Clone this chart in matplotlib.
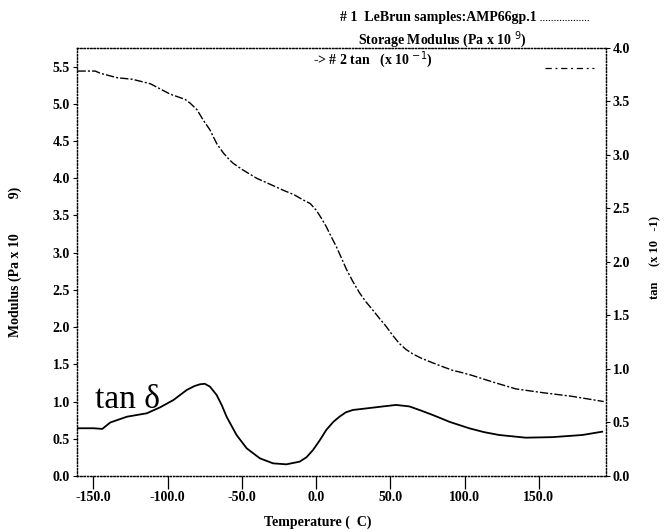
import numpy as np
import matplotlib
matplotlib.use("Agg")
import matplotlib.pyplot as plt

plt.rcParams["font.family"] = ["Liberation Serif", "DejaVu Serif"]
plt.rcParams["axes.unicode_minus"] = False

# storage modulus (Pa x 10^9), left axis
mod_temp = [-160.7, -148.7, -145.3, -133.9, -123.8, -111.7, -98.3, -88.3, -84.9,
            -80.2, -76.0, -71.5, -69.3, -66.8, -62.5, -58.5, -55.8, -50.0, -40.1,
            -30.0, -22.3, -15.0, -8.9, -4.0, 0.1, 3.6, 6.8, 10.0, 13.6, 17.0,
            20.3, 24.5, 29.2, 33.5, 38.1, 42.5, 47.1, 51.5, 56.0, 60.5, 65.0,
            71.0, 78.5, 85.0, 91.8, 98.0, 105.2, 113.0, 121.0, 134.4, 152.2,
            172.3, 193.6]
mod_vals = [5.44, 5.44, 5.41, 5.35, 5.33, 5.27, 5.13, 5.06, 5.01,
            4.92, 4.78, 4.65, 4.56, 4.46, 4.34, 4.25, 4.20, 4.12, 4.00,
            3.91, 3.84, 3.78, 3.71, 3.66, 3.57, 3.46, 3.35, 3.22, 3.08, 2.93,
            2.78, 2.62, 2.46, 2.34, 2.23, 2.12, 2.01, 1.89, 1.78, 1.70, 1.64,
            1.58, 1.52, 1.47, 1.42, 1.39, 1.35, 1.30, 1.25, 1.17, 1.12,
            1.07, 1.00]

# tan delta (x 10^-1), right axis
tan_temp = [-161.4, -149.8, -144.0, -138.6, -127.4, -114.0, -105.0, -96.1, -87.1,
            -82.0, -78.2, -75.0, -71.5, -67.0, -63.5, -60.3, -53.6, -46.8, -37.9,
            -29.0, -20.0, -11.1, -6.5, -2.1, 2.5, 6.8, 11.5, 15.8, 20.0, 24.7,
            29.2, 35.9, 45.0, 53.8, 62.8, 70.5, 78.5, 90.0, 103.0, 113.0, 123.2,
            141.1, 159.0, 179.2, 192.6]
tan_vals = [0.446, 0.446, 0.440, 0.500, 0.554, 0.586, 0.642, 0.710, 0.804,
            0.840, 0.857, 0.862, 0.835, 0.757, 0.660, 0.554, 0.383, 0.259, 0.165,
            0.118, 0.109, 0.134, 0.175, 0.243, 0.335, 0.430, 0.505, 0.555, 0.595, 0.617,
            0.624, 0.635, 0.650, 0.664, 0.650, 0.612, 0.570, 0.505, 0.446, 0.410, 0.383,
            0.358, 0.363, 0.383, 0.414]

x_ticks = [-150, -100, -50, 0, 50, 100, 150]
left_ticks = [0.0, 0.5, 1.0, 1.5, 2.0, 2.5, 3.0, 3.5, 4.0, 4.5, 5.0, 5.5]
right_ticks = [0.0, 0.5, 1.0, 1.5, 2.0, 2.5, 3.0, 3.5, 4.0]

fig = plt.figure(figsize=(6.71, 5.32), dpi=100)
ax = fig.add_axes([0.1148, 0.1053, 0.788, 0.8045])
ax2 = ax.twinx()

ax.plot(mod_temp, mod_vals, color="black", lw=1.0, ls=(0, (6, 1.5, 1.5, 1.5)))
ax2.plot(tan_temp, tan_vals, color="black", lw=1.3)

ax.set_xlim(-161, 195)
ax.set_ylim(0, 5.75)
ax2.set_ylim(0, 4.0)

ax.set_xticks(x_ticks)
ax.set_xticklabels([f"{t:.1f}" for t in x_ticks])
ax.set_yticks(left_ticks)
ax.set_yticklabels([f"{t:.1f}" for t in left_ticks])
ax2.set_yticks(right_ticks)
ax2.set_yticklabels([f"{t:.1f}" for t in right_ticks])

for a in (ax, ax2):
    for s in a.spines.values():
        s.set_linestyle(":")
        s.set_linewidth(0.9)
    for lab in a.get_xticklabels() + a.get_yticklabels():
        lab.set_fontweight("bold")
        lab.set_fontsize(10)
ax.tick_params(axis="x", direction="out", length=9, width=0.9, pad=2)
ax.tick_params(axis="y", direction="out", length=3, width=0.8, pad=2)
ax2.tick_params(axis="y", direction="out", length=3, width=0.8, pad=2)

ax.set_xlabel("Temperature (  C)", fontsize=10, fontweight="bold")
ax.xaxis.set_label_coords(0.455, -0.092)
ax.set_ylabel("Modulus (Pa x 10          9)", fontsize=10, fontweight="bold")
ax.yaxis.set_label_coords(-0.104, 0.50)
ax2.set_ylabel("tan     (x 10   -1)", fontsize=9, fontweight="bold", rotation=90)
ax2.yaxis.set_label_coords(1.083, 0.51)

ax.text(0.034, 0.16, "tan \u03b4", transform=ax.transAxes, fontsize=24,
        family=["Liberation Serif", "DejaVu Serif"])

# legend block at the top
fig.text(0.507, 0.968, "# 1  LeBrun samples:AMP66gp.1", fontsize=10, fontweight="bold",
         va="center")
fig.text(0.534, 0.925, "Storage Modulus (Pa x 10 $^{9}$)", fontsize=10, fontweight="bold",
         va="center")
fig.text(0.466, 0.888, "-> # 2 tan   (x 10 $^{-1}$)", fontsize=10, fontweight="bold",
         va="center")
fig.add_artist(plt.Line2D([0.805, 0.88], [0.962, 0.962], color="black", lw=0.8,
                          ls=(0, (1, 1.5)), transform=fig.transFigure))
fig.add_artist(plt.Line2D([0.812, 0.885], [0.872, 0.872], color="black", lw=0.9,
                          ls=(0, (5, 3, 1.5, 3)), transform=fig.transFigure))

fig.savefig("out.png", dpi=100)
